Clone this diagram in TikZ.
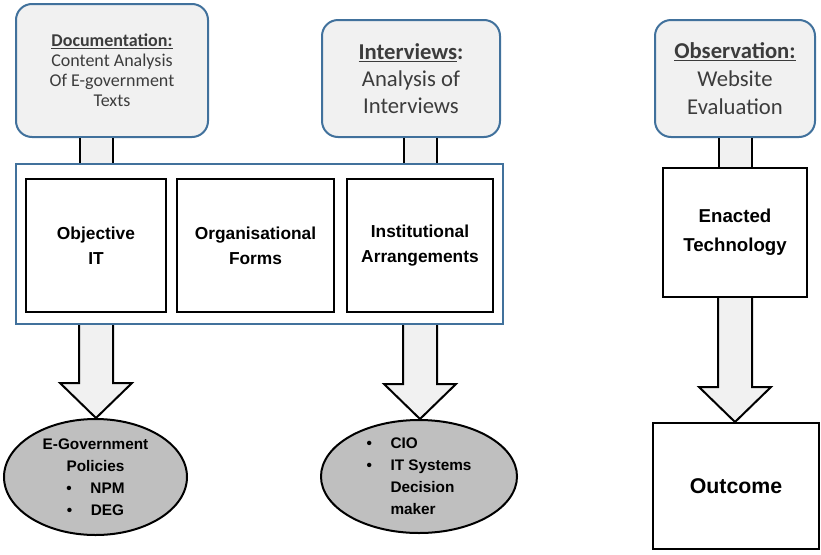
\documentclass[tikz,border=0pt]{standalone}
\usepackage{fontspec}
\setmainfont{Liberation Sans}
\newfontfamily\calibri{Carlito}
\usetikzlibrary{calc, shapes.geometric}
\definecolor{boxblue}{RGB}{65,113,156}
\definecolor{boxgray}{RGB}{241,241,241}
\definecolor{ellgray}{RGB}{191,191,191}
\definecolor{txtgray}{RGB}{60,60,60}

\newcommand{\stem}[2]{%
  \fill[boxgray] ($(#1)+(-16.5,0)$) rectangle ($(#2)+(16.5,0)$);
  \draw[line width=1.5pt] ($(#1)+(-16.5,0)$) -- ($(#2)+(-16.5,0)$) ($(#1)+(16.5,0)$) -- ($(#2)+(16.5,0)$);}
\newcommand{\blockarrow}[2]{%
  \filldraw[line width=1.5pt, fill=boxgray, line join=miter] ($(#1)+(-17,0)$) -- ($(#2)+(-17,-35)$)
    -- ($(#2)+(-36,-35)$) -- (#2) -- ($(#2)+(36,-35)$) -- ($(#2)+(17,-35)$) -- ($(#1)+(17,0)$);}

\begin{document}
\begin{tikzpicture}[x=0.75pt, y=-0.75pt,
  topbox/.style={draw=boxblue, line width=1.5pt, fill=boxgray, rounded corners=12pt, align=center, text=txtgray},
  blackbox/.style={draw, line width=1.5pt, align=center, fill=white},
  ell/.style={ellipse, draw, line width=1.5pt, fill=ellgray, inner sep=0pt, font=\bfseries\fontsize{11.5}{16.5}\selectfont}]
\useasboundingbox (0,0) rectangle (821,554);
\node[topbox, minimum width=144pt, minimum height=99.75pt, font=\calibri\fontsize{13.5}{15}\selectfont] (doc) at (112,70.5)
     {\textbf{\underline{Documentation:}}\\Content Analysis\\Of E-government\\Texts};
\node[topbox, minimum width=133.5pt, minimum height=87.75pt, font=\calibri\fontsize{17}{20.5}\selectfont] (intv) at (411,78.5)
     {\textbf{\underline{Interviews}:}\\Analysis of\\Interviews};
\node[topbox, minimum width=120pt, minimum height=87.75pt, font=\calibri\fontsize{17}{21}\selectfont] (obs) at (735,78.5)
     {\textbf{\underline{Observation:}}\\Website\\Evaluation};
\node[draw=boxblue, line width=1.5pt, minimum width=365.25pt, minimum height=120pt] (cont) at (259.5,244) {};
\foreach \n/\x/\w/\t in {obj/96/105/{Objective\\IT}, org/255.5/117.75/{Organisational\\Forms}, inst/420/109.5/{Institutional\\Arrangements}}
  \node[blackbox, minimum width=\w pt, minimum height=99.75pt, font=\bfseries\fontsize{13}{18.75}\selectfont] (\n) at (\x,245.5) {\t};
\node[blackbox, minimum width=108pt, minimum height=96.75pt, font=\bfseries\fontsize{14}{21.75}\selectfont] (enact) at (735,232.5)
     {Enacted\\Technology};
\node[blackbox, minimum width=124.5pt, minimum height=94.5pt, font=\bfseries\fontsize{16}{20}\selectfont] (outc) at (736,486) {Outcome};
\node[ell, minimum width=137.25pt, minimum height=87pt, align=center] (pol) at (95.5,477)
     {E-Government\\Policies\\\textbullet\hspace{14pt}NPM\\\textbullet\hspace{14pt}DEG};
\node[ell, minimum width=147pt, minimum height=84.75pt, align=left] (actors) at (419,476.5)
     {\textbullet\hspace{14pt}CIO\\\textbullet\hspace{14pt}IT Systems\\\hphantom{\textbullet}\hspace{14pt}Decision\\\hphantom{\textbullet}\hspace{14pt}maker};
\coordinate (s1) at (obj.center |- doc.south);   \coordinate (e1) at (obj.center |- cont.north);
\coordinate (s2) at (inst.center |- intv.south); \coordinate (e2) at (inst.center |- cont.north);
\coordinate (s3) at (obs.south);                 \coordinate (e3) at (obs.center |- enact.north);
\stem{s1}{e1} \stem{s2}{e2} \stem{s3}{e3}
\coordinate (a1) at (obj.center |- cont.south);  \coordinate (t1) at (obj.center |- pol.north);
\coordinate (a2) at (inst.center |- cont.south); \coordinate (t2) at (inst.center |- actors.north);
\coordinate (a3) at (obs.center |- enact.south); \coordinate (t3) at (obs.center |- outc.north);
\blockarrow{a1}{t1} \blockarrow{a2}{t2} \blockarrow{a3}{t3}
\end{tikzpicture}
\end{document}
